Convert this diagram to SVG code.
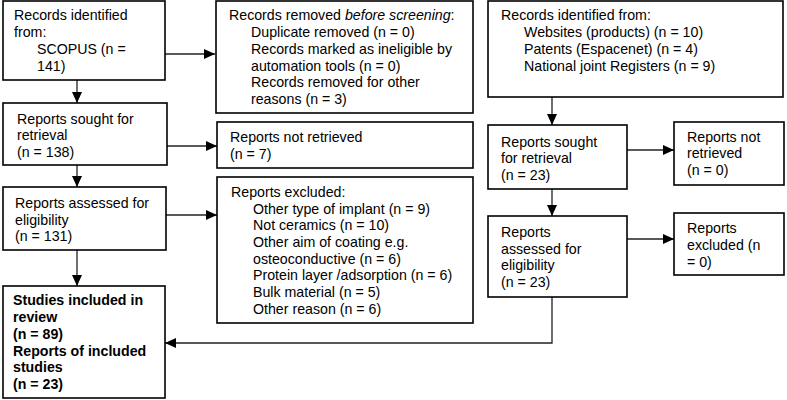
<svg xmlns="http://www.w3.org/2000/svg" width="787" height="400" viewBox="0 0 787 400">
<defs>
<marker id="arr" markerUnits="userSpaceOnUse" markerWidth="11" markerHeight="10" refX="11" refY="5" orient="auto">
<path d="M0,0 L11,5 L0,10 z" fill="#000"/>
</marker>
<style>
.box{fill:#fff;stroke:#000;stroke-width:1.6}
.t{font-family:"Liberation Sans",Arial,sans-serif;font-size:14.2px;fill:#000}
.b{font-weight:bold}
.c{fill:none;stroke:#222;stroke-width:1.3;marker-end:url(#arr)}
</style>
</defs>
<rect width="787" height="400" fill="#fff"/>
<g id="connectors">
<line class="c" x1="165" y1="54" x2="215" y2="54"/>
<line class="c" x1="77" y1="80" x2="77" y2="103"/>
<line class="c" x1="167" y1="146" x2="217" y2="146"/>
<line class="c" x1="77" y1="165" x2="77" y2="187"/>
<line class="c" x1="166" y1="215" x2="217" y2="215"/>
<line class="c" x1="77" y1="250" x2="77" y2="286"/>
<line class="c" x1="552" y1="97" x2="552" y2="125"/>
<line class="c" x1="627" y1="150" x2="674" y2="150"/>
<line class="c" x1="552" y1="189" x2="552" y2="216"/>
<line class="c" x1="627" y1="239" x2="674" y2="239"/>
<polyline class="c" points="552,297 552,343 165,343"/>
</g>
<g id="n1">
<rect class="box" x="3" y="1" width="162" height="79"/>
<text class="t" x="14" y="20">Records identified</text>
<text class="t" x="14" y="37">from:</text>
<text class="t" x="37" y="54">SCOPUS (n =</text>
<text class="t" x="37" y="71">141)</text>
</g>
<g id="n2">
<rect class="box" x="216" y="1" width="257" height="112"/>
<text class="t" x="229" y="20">Records removed <tspan font-style="italic">before screening</tspan>:</text>
<text class="t" x="251" y="37">Duplicate removed (n = 0)</text>
<text class="t" x="251" y="54">Records marked as ineligible by</text>
<text class="t" x="251" y="71">automation tools (n = 0)</text>
<text class="t" x="251" y="87">Records removed for other</text>
<text class="t" x="251" y="104">reasons (n = 3)</text>
</g>
<g id="n3">
<rect class="box" x="488" y="1" width="295" height="96"/>
<text class="t" x="501" y="20">Records identified from:</text>
<text class="t" x="524" y="37">Websites (products) (n = 10)</text>
<text class="t" x="524" y="54">Patents (Espacenet) (n = 4)</text>
<text class="t" x="524" y="71">National joint Registers (n = 9)</text>
</g>
<g id="n4">
<rect class="box" x="3" y="103" width="164" height="62"/>
<text class="t" x="17" y="124">Reports sought for</text>
<text class="t" x="17" y="140">retrieval</text>
<text class="t" x="17" y="157">(n = 138)</text>
</g>
<g id="n5">
<rect class="box" x="217" y="122" width="256" height="46"/>
<text class="t" x="230" y="142">Reports not retrieved</text>
<text class="t" x="230" y="159">(n = 7)</text>
</g>
<g id="n6">
<rect class="box" x="3" y="187" width="163" height="63"/>
<text class="t" x="15" y="208">Reports assessed for</text>
<text class="t" x="15" y="225">eligibility</text>
<text class="t" x="15" y="241">(n = 131)</text>
</g>
<g id="n7">
<rect class="box" x="217" y="177" width="256" height="146"/>
<text class="t" x="231" y="197">Reports excluded:</text>
<text class="t" x="253" y="214">Other type of implant (n = 9)</text>
<text class="t" x="253" y="230">Not ceramics (n = 10)</text>
<text class="t" x="253" y="247">Other aim of coating e.g.</text>
<text class="t" x="253" y="264">osteoconductive (n = 6)</text>
<text class="t" x="253" y="280">Protein layer /adsorption (n = 6)</text>
<text class="t" x="253" y="297">Bulk material (n = 5)</text>
<text class="t" x="253" y="314">Other reason (n = 6)</text>
</g>
<g id="n8">
<rect class="box" x="3" y="286" width="162" height="112"/>
<text class="t b" x="13" y="305">Studies included in</text>
<text class="t b" x="13" y="322">review</text>
<text class="t b" x="13" y="339">(n = 89)</text>
<text class="t b" x="13" y="356">Reports of included</text>
<text class="t b" x="13" y="372">studies</text>
<text class="t b" x="13" y="389">(n = 23)</text>
</g>
<g id="n9">
<rect class="box" x="488" y="125" width="139" height="64"/>
<text class="t" x="501" y="147">Reports sought</text>
<text class="t" x="501" y="163">for retrieval</text>
<text class="t" x="501" y="180">(n = 23)</text>
</g>
<g id="n10">
<rect class="box" x="674" y="122" width="110" height="63"/>
<text class="t" x="687" y="142">Reports not</text>
<text class="t" x="687" y="158">retrieved</text>
<text class="t" x="687" y="175">(n = 0)</text>
</g>
<g id="n11">
<rect class="box" x="488" y="216" width="139" height="81"/>
<text class="t" x="501" y="237">Reports</text>
<text class="t" x="501" y="254">assessed for</text>
<text class="t" x="501" y="270">eligibility</text>
<text class="t" x="501" y="287">(n = 23)</text>
</g>
<g id="n12">
<rect class="box" x="674" y="213" width="110" height="62"/>
<text class="t" x="687" y="233">Reports</text>
<text class="t" x="687" y="250">excluded (n</text>
<text class="t" x="687" y="267">= 0)</text>
</g>
</svg>
